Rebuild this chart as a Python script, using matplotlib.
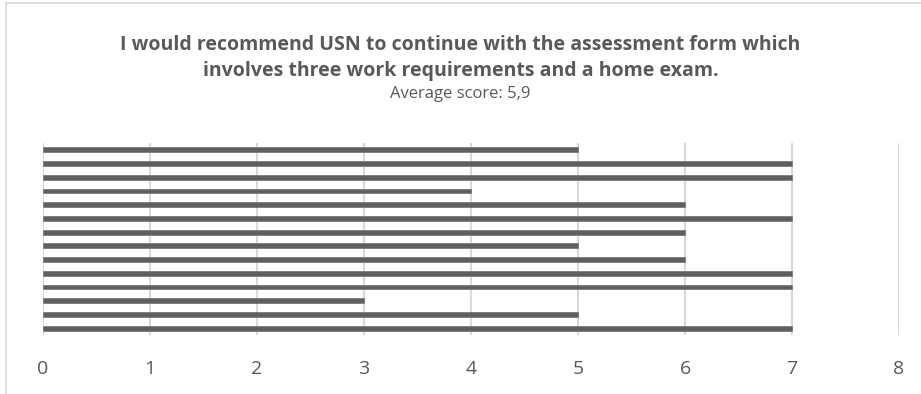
#!/usr/bin/env python3
# Horizontal bar chart: recommendation scores per respondent

import matplotlib.pyplot as plt
from matplotlib.lines import Line2D

title = 'I would recommend USN to continue with the assessment form which\ninvolves three work requirements and a home exam.'
subtitle = 'Average score: 5,9'
scores = [5, 7, 7, 4, 6, 7, 6, 5, 6, 7, 7, 3, 5, 7]  # top to bottom
xticks = [0, 1, 2, 3, 4, 5, 6, 7, 8]

text_color = '#595959'
bar_color = '#5f5f5f'
grid_color = '#d9d9d9'

plt.rcParams['font.family'] = ['Open Sans', 'DejaVu Sans']

fig = plt.figure(figsize=(9.21, 3.94), dpi=100)
ax = fig.add_axes([43 / 921, 1 - 335 / 394, 856 / 921, 192 / 394])

ypos = list(range(len(scores)))[::-1]
ax.barh(ypos, scores, height=0.36, color=bar_color, edgecolor='#7a7a7a',
        linewidth=0.6, zorder=3)

ax.set_xlim(0, 8)
ax.set_ylim(-0.5, len(scores) - 0.5)
ax.set_xticks(xticks)
ax.set_xticklabels([str(t) for t in xticks], fontsize=14, color=text_color)
ax.set_yticks([])
ax.tick_params(axis='x', length=0, pad=18)
ax.grid(axis='x', color=grid_color, linewidth=1.5, zorder=0)
for s in ax.spines.values():
    s.set_visible(False)

fig.text(0.5, 1 - 58 / 394, title, ha='center', va='center', fontsize=14,
         fontweight='bold', color=text_color, linespacing=1.4)
fig.text(0.5, 1 - 94 / 394, subtitle, ha='center', va='center', fontsize=12,
         color=text_color)

# chart frame (left and top edges visible in the crop)
fig.add_artist(Line2D([6 / 921, 6 / 921], [0, 1 - 3 / 394], color=grid_color,
                      linewidth=1.2, transform=fig.transFigure))
fig.add_artist(Line2D([6 / 921, 1], [1 - 3 / 394, 1 - 3 / 394], color=grid_color,
                      linewidth=1.2, transform=fig.transFigure))

fig.savefig('out.png', dpi=100)
